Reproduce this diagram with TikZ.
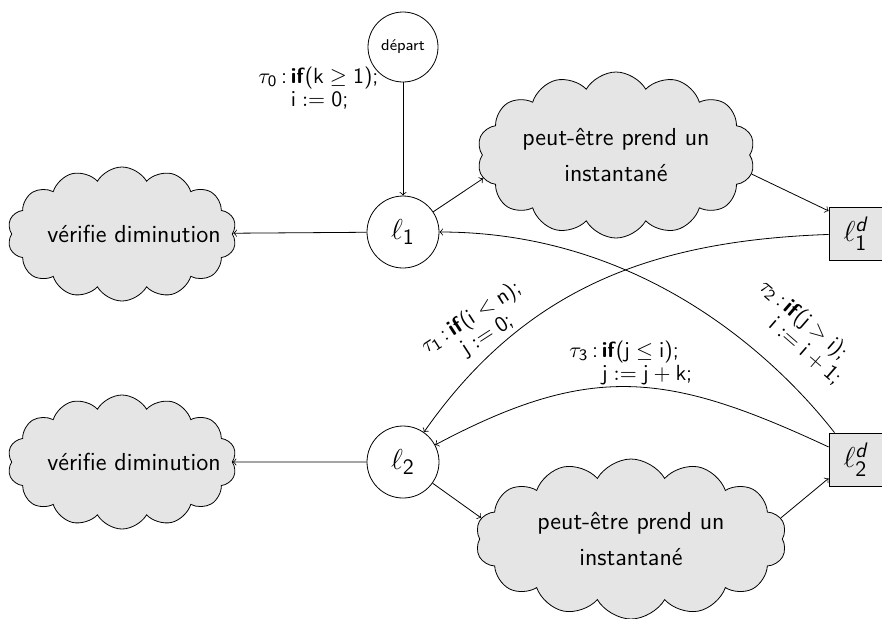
\documentclass[tikz,border=0pt]{standalone}
\usepackage{amsmath}
\usetikzlibrary{shapes.symbols}
\renewcommand{\familydefault}{\sfdefault}
\newcommand{\tl}[2]{$\tau_{\mathsf{#1}}$\,:\,\begin{tabular}[t]{@{}l@{}}#2\end{tabular}}
\begin{document}
\begin{tikzpicture}[x=0.5pt,y=-0.5pt,
  loc/.style={circle,draw,minimum size=36pt,inner sep=0pt,font=\fontsize{15}{18}\selectfont},
  dbox/.style={rectangle,draw,fill=gray!20,minimum size=26.5pt,inner sep=0pt,font=\fontsize{15}{18}\selectfont},
  blob/.style={cloud,draw,fill=gray!20,cloud puffs=14,cloud puff arc=120,cloud ignores aspect,inner sep=0pt,font=\fontsize{12.3}{18}\selectfont,align=center},
  lab/.style={font=\fontsize{11}{10.5}\selectfont,inner sep=0pt},
  arr/.style={->}]
\useasboundingbox (0,0) rectangle (882,618);
\node[loc,minimum size=35pt,font=\fontsize{7.8}{9}\selectfont] (dep) at (403,47) {départ};
\node[loc] (l1) at (403,232) {$\ell_{\mathsf{1}}$};
\node[loc] (l2) at (403,462) {$\ell_{\mathsf{2}}$};
\node[dbox] (l1d) at (855.5,233.5) {$\ell^{\textsf{\itshape d}}_{\mathsf{1}}$};
\node[dbox] (l2d) at (855.5,459.5) {$\ell^{\textsf{\itshape d}}_{\mathsf{2}}$};
\node[blob,minimum width=114.5pt,minimum height=67pt] (v1) at (122,234) {\makebox[72pt]{\hspace{12pt}vérifie diminution}};
\node[blob,minimum width=114.5pt,minimum height=67pt] (v2) at (122,462) {\makebox[72pt]{\hspace{12pt}vérifie diminution}};
\node[blob,minimum width=139pt,minimum height=83pt] (s1) at (616,155) {peut-être prend un\\instantané};
\node[blob,minimum width=155.5pt,minimum height=80pt] (s2) at (631,539) {peut-être prend un\\instantané};
% labels
\node[lab,anchor=base west] (t0) at (258,83) {\tl{0}{\textbf{if}($\mathsf{k}\geq\mathsf{1}$);\\[1pt]$\mathsf{i}:=\mathsf{0}$;}};
\node[lab,anchor=base west] (t3) at (569,357) {\tl{3}{\textbf{if}($\mathsf{j}\leq\mathsf{i}$);\\[1pt]$\mathsf{j}:=\mathsf{j}+\mathsf{k}$;}};
\node[lab,rotate=33] (t1) at (478,328) {\tl{1}{\textbf{if}($\mathsf{i}<\mathsf{n}$);\\[1pt]$\mathsf{j}:=\mathsf{0}$;}};
\node[lab,rotate=-41] (t2) at (800,333) {\tl{2}{\textbf{if}($\mathsf{j}>\mathsf{i}$);\\[1pt]$\mathsf{i}:=\mathsf{i}+\mathsf{1}$;}};
% connectors
\draw[arr] (dep) -- (l1);
\draw[arr] (l1) -- (v1);
\draw[arr] (l2) -- (v2);
\draw[arr] (l1) -- (s1.190);
\draw[arr] (s1.-8) -- (l1d.140);
\draw[arr] (l2) -- (s2.172);
\draw[arr] (s2.8) -- (l2d.215);
\draw[arr] (l2d) to[out=128,in=0,out distance=50pt,in distance=100pt] (l1);
\draw[arr] (l1d) to[out=182,in=55] (l2);
\draw[arr] (l2d) to[out=155,in=28,looseness=1.15] (l2);
\end{tikzpicture}
\end{document}
